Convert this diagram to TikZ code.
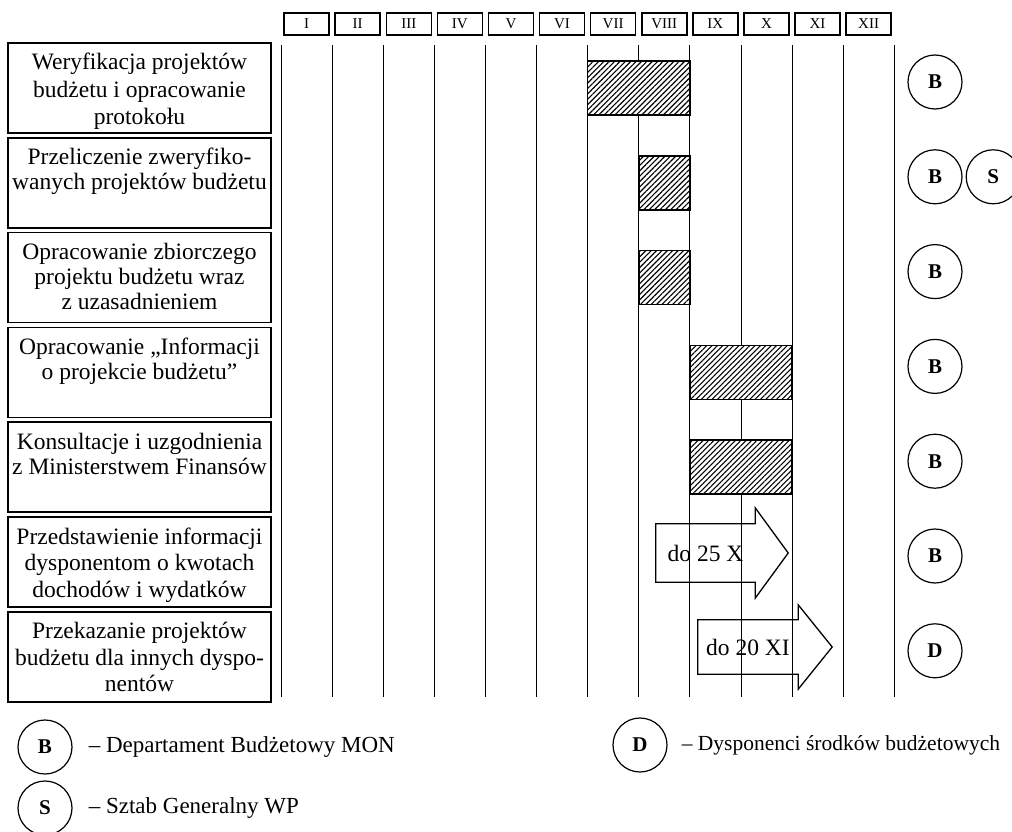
\documentclass[tikz,border=0pt]{standalone}
\usepackage{fontspec}
\setmainfont{Liberation Serif}
\usetikzlibrary{positioning,fit,calc,patterns.meta}
\newcommand{\opis}[2][25pt]{\parbox[c][84pt][t]{259pt}{\centering\baselineskip=#1\rule{0pt}{24pt}#2}}
\newcommand{\okres}[3]{\node[pasek, fit={(#2 |- #1) (#3 |- #1)}] (p#1) {};}
\newcommand{\grot}[3]{\draw[strzalka] (#1.north west) -- (#1.north east) -- ++(0,-#2) -- ($(#1.east)+(#3,0)$) -- ($(#1.south east)+(0,#2)$) -- (#1.south east) -- (#1.south west) -- cycle;}
\tikzset{
  etap/.style={draw, line width=1.5pt, minimum width=263pt, minimum height=90pt, inner sep=0pt, font=\fontsize{23.5}{25}\selectfont},
  miesiac/.style={draw, line width=1.5pt, minimum width=45pt, minimum height=22pt, inner sep=0pt, font=\fontsize{15}{16}\selectfont},
  siatka/.style={line width=0.7pt},
  pasek/.style={draw, line width=1.6pt, inner xsep=0pt, inner ysep=27pt, preaction={fill=white}, pattern={Lines[angle=45,distance=3.8pt,line width=1.1pt]}},
  kolo/.style={draw, circle, line width=1.2pt, minimum size=54pt, inner sep=0pt, font=\fontsize{21}{21}\selectfont\bfseries},
  termin/.style={inner sep=0pt, font=\fontsize{23.5}{25}\selectfont},
  strzalka/.style={line width=1.3pt, line join=miter},
  legenda/.style={inner sep=0pt, font=\fontsize{23}{25}\selectfont}
}
\begin{document}
\begin{tikzpicture}[x=1pt, y=-1pt]
\useasboundingbox (0,0) rectangle (1012,832);
% miesiace i siatka
\foreach \m [count=\i] in {I,II,III,IV,V,VI,VII,VIII,IX,X,XI,XII}
  \node[miesiac] (m\i) at (255.45+51.1*\i, 24) {\m};
\foreach \i in {0,...,12} {
  \coordinate (g\i) at (281+51.1*\i, 45);
  \draw[siatka] (g\i) -- ++(0,652);
}
% etapy
\node[etap] (e1) at (139.5,88) {\opis[27.5pt]{Weryfikacja projektów\\budżetu i opracowanie\\protokołu}};
\node[etap, below=3.3pt of e1] (e2) {\opis{Przeliczenie zweryfiko-\\wanych projektów budżetu}};
\node[etap, below=3.3pt of e2] (e3) {\opis{Opracowanie zbiorczego\\projektu budżetu wraz\\z uzasadnieniem}};
\node[etap, below=3.3pt of e3] (e4) {\opis{Opracowanie „Informacji\\o projekcie budżetu”}};
\node[etap, below=3.3pt of e4] (e5) {\opis{Konsultacje i uzgodnienia\\z Ministerstwem Finansów}};
\node[etap, below=3.3pt of e5] (e6) {\opis[26.5pt]{Przedstawienie informacji\\dysponentom o kwotach\\dochodów i wydatków}};
\node[etap, below=3.3pt of e6] (e7) {\opis[26.5pt]{Przekazanie projektów\\budżetu dla innych dyspo-\\nentów}};
% okresy
\okres{e1}{g6}{g8}
\okres{e2}{g7}{g8}
\okres{e3}{g7}{g8}
\okres{e4}{g8}{g10}
\okres{e5}{g8}{g10}
\node[termin, minimum width=99pt, minimum height=58pt] (t6) at (705.5,553) {do 25 X};
\grot{t6}{16}{33}
\node[termin, minimum width=100pt, minimum height=54pt] (t7) at (748,647) {do 20 XI};
\grot{t7}{15}{34}
% wykonawcy
\coordinate (k) at (935,0);
\node[kolo, yshift=6pt] (b1) at (k |- e1) {B};
\node[kolo, yshift=6pt] (b2) at (k |- e2) {B};
\node[kolo, right=3pt of b2] (s2) {S};
\node[kolo, yshift=6pt] (b3) at (k |- e3) {B};
\node[kolo, yshift=6pt] (b4) at (k |- e4) {B};
\node[kolo, yshift=6pt] (b5) at (k |- e5) {B};
\node[kolo, yshift=6pt] (b6) at (k |- e6) {B};
\node[kolo, yshift=6pt] (d7) at (k |- e7) {D};
% legenda
\node[kolo] (lb) at (45,747) {B};
\node[legenda, right=16pt of lb] (tb) {– Departament Budżetowy MON};
\node[kolo] (ls) at (45,808) {S};
\node[legenda, right=16pt of ls] (ts) {– Sztab Generalny WP};
\node[kolo] (ld) at (640,745) {D};
\node[legenda, right=14pt of ld, font=\fontsize{21.5}{25}\selectfont] (td) {– Dysponenci środków budżetowych};
\end{tikzpicture}
\end{document}
